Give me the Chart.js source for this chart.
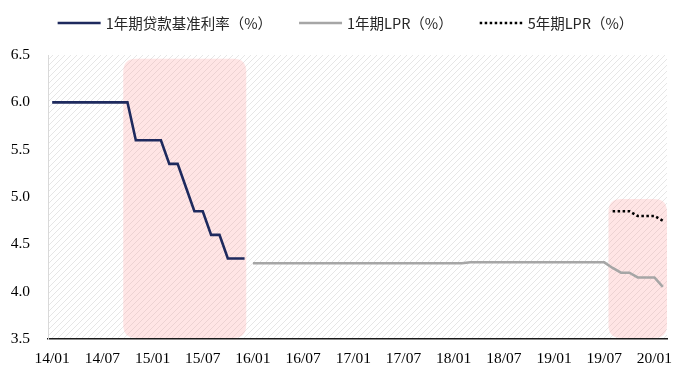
<!DOCTYPE html>
<html><head><meta charset="utf-8">
<script src="https://cdn.jsdelivr.net/npm/chart.js@4.4.1/dist/chart.umd.min.js"></script>
<style>html,body{margin:0;padding:0;background:#fff}#wrap{width:685px;height:378px;position:relative}</style>
</head><body><div id="wrap"><canvas id="c"></canvas></div>
<script>
// ---- data ----
const startYear = 2014, startMonth = 1, monthCount = 74; // 14/01 .. 20/02, monthly
const categories = [];
for (let i = 0; i < monthCount; i++) {
  const y = startYear + Math.floor((startMonth - 1 + i) / 12);
  const m = (startMonth - 1 + i) % 12 + 1;
  categories.push(String(y % 100).padStart(2, '0') + '/' + String(m).padStart(2, '0'));
}
const tickLabels = ['14/01','14/07','15/01','15/07','16/01','16/07','17/01','17/07','18/01','18/07','19/01','19/07','20/01'];
const seriesNames = ['1年期贷款基准利率（%）', '1年期LPR（%）', '5年期LPR（%）'];

const benchmark1yStart = '14/01';
const benchmark1y = [6.0,6.0,6.0,6.0,6.0,6.0,6.0,6.0,6.0,6.0,5.6,5.6,5.6,5.6,5.35,5.35,5.1,4.85,4.85,4.6,4.6,4.35,4.35,4.35];
const lpr1yStart = '16/01';
const lpr1y = [4.3,4.3,4.3,4.3,4.3,4.3,4.3,4.3,4.3,4.3,4.3,4.3,4.3,4.3,4.3,4.3,4.3,4.3,4.3,4.3,4.3,4.3,4.3,4.3,4.3,4.3,
  4.31,4.31,4.31,4.31,4.31,4.31,4.31,4.31,4.31,4.31,4.31,4.31,4.31,4.31,4.31,4.31,4.31,
  4.25,4.2,4.2,4.15,4.15,4.15,4.05];
const lpr5yStart = '19/08';
const lpr5y = [4.85,4.85,4.85,4.8,4.8,4.8,4.75];

const yMin = 3.5, yMax = 6.5, yStep = 0.5;
// shaded periods (category index positions) and their top value
const shadeStart = [8.5, 66.5];
const shadeEnd = [23.2, 73.5];
const shadeTop = [6.46, 4.98];

function placeSeries(values, startLabel) {
  const arr = new Array(categories.length).fill(null);
  const s = categories.indexOf(startLabel);
  values.forEach((v, i) => { arr[s + i] = v; });
  return arr;
}

// ---- plugins ----
function makeHatch(ctx) {
  const p = document.createElement('canvas');
  const s = 6; p.width = s; p.height = s;
  const c = p.getContext('2d');
  c.strokeStyle = '#E6E6E6'; c.lineWidth = 1;
  c.beginPath();
  c.moveTo(0, s); c.lineTo(s, 0);
  c.moveTo(-1, 1); c.lineTo(1, -1);
  c.moveTo(s - 1, s + 1); c.lineTo(s + 1, s - 1);
  c.stroke();
  return ctx.createPattern(p, 'repeat');
}
function roundRect(ctx, x, y, w, h, r) {
  ctx.beginPath();
  ctx.moveTo(x + r, y);
  ctx.lineTo(x + w - r, y); ctx.quadraticCurveTo(x + w, y, x + w, y + r);
  ctx.lineTo(x + w, y + h - r); ctx.quadraticCurveTo(x + w, y + h, x + w - r, y + h);
  ctx.lineTo(x + r, y + h); ctx.quadraticCurveTo(x, y + h, x, y + h - r);
  ctx.lineTo(x, y + r); ctx.quadraticCurveTo(x, y, x + r, y);
  ctx.closePath();
}
const backgroundPlugin = {
  id: 'bgShade',
  beforeDraw(chart) {
    const {ctx, chartArea: a, scales: {x, y}} = chart;
    ctx.save();
    ctx.fillStyle = makeHatch(ctx);
    ctx.fillRect(a.left, a.top, a.right - a.left, a.bottom - a.top);
    ctx.fillStyle = 'rgba(255, 170, 170, 0.30)';
    for (let i = 0; i < shadeStart.length; i++) {
      const x0 = x.getPixelForValue(shadeStart[i]);
      const x1 = x.getPixelForValue(shadeEnd[i]);
      const y0 = y.getPixelForValue(shadeTop[i]);
      const y1 = y.getPixelForValue(yMin) - 1;
      roundRect(ctx, x0, y0, x1 - x0, y1 - y0, 13);
      ctx.fill();
    }
    ctx.restore();
  }
};
const legendPlugin = {
  id: 'customLegend',
  afterDraw(chart) {
    const ctx = chart.ctx;
    ctx.save();
    ctx.font = '14.5px "Noto Sans CJK SC"';
    ctx.textBaseline = 'middle';
    const sample = 43, gapText = 5, gapItem = 27, cy = 23;
    const items = chart.data.datasets;
    const widths = items.map(d => sample + gapText + ctx.measureText(d.label).width);
    const total = widths.reduce((a, b) => a + b, 0) + gapItem * (items.length - 1);
    let x = (chart.width - total) / 2 + 3;
    items.forEach((d, i) => {
      ctx.strokeStyle = d.borderColor;
      ctx.lineWidth = d.borderWidth;
      ctx.setLineDash(d.borderDash || []);
      ctx.beginPath(); ctx.moveTo(x, cy); ctx.lineTo(x + sample, cy); ctx.stroke();
      ctx.setLineDash([]);
      ctx.fillStyle = '#262626';
      ctx.fillText(d.label, x + sample + gapText, cy);
      x += widths[i] + gapItem;
    });
    ctx.restore();
  }
};

// ---- chart ----
const serif = "'Liberation Serif', 'Times New Roman', serif";
new Chart(document.getElementById('c'), {
  type: 'line',
  data: {
    labels: categories,
    datasets: [
      { label: seriesNames[0], data: placeSeries(benchmark1y, benchmark1yStart), borderColor: '#1E2A5E', borderWidth: 2.6 },
      { label: seriesNames[1], data: placeSeries(lpr1y, lpr1yStart), borderColor: '#A6A6A6', borderWidth: 2.6 },
      { label: seriesNames[2], data: placeSeries(lpr5y, lpr5yStart), borderColor: '#000000', borderWidth: 2.6, borderDash: [2.5, 2.5] }
    ]
  },
  options: {
    responsive: true,
    maintainAspectRatio: false,
    animation: false,
    layout: { padding: { top: 55, right: 18, bottom: 10, left: 0 } },
    elements: { point: { radius: 0 }, line: { tension: 0, borderJoinStyle: 'miter', borderCapStyle: 'butt' } },
    plugins: { legend: { display: false }, tooltip: { enabled: false } },
    scales: {
      x: {
        type: 'category',
        offset: true,
        grid: { display: false, drawTicks: false },
        border: { display: true, color: '#1A1A1A', width: 1.5 },
        afterFit: s => { s.height = 29; },
        ticks: {
          autoSkip: false, maxRotation: 0, padding: 11,
          color: '#000000', font: { family: serif, size: 15.5 },
          callback: function(v, i) { const l = categories[i]; return tickLabels.includes(l) ? l : ''; }
        }
      },
      y: {
        min: yMin, max: yMax,
        grid: { display: false, drawTicks: false },
        border: { display: true, color: '#D9D9D9', width: 1 },
        afterFit: s => { s.width = 48; },
        ticks: {
          stepSize: yStep, padding: 18,
          color: '#000000', font: { family: serif, size: 15.5 },
          callback: v => Number(v).toFixed(1)
        }
      }
    }
  },
  plugins: [backgroundPlugin, legendPlugin]
});
</script>
</body></html>
